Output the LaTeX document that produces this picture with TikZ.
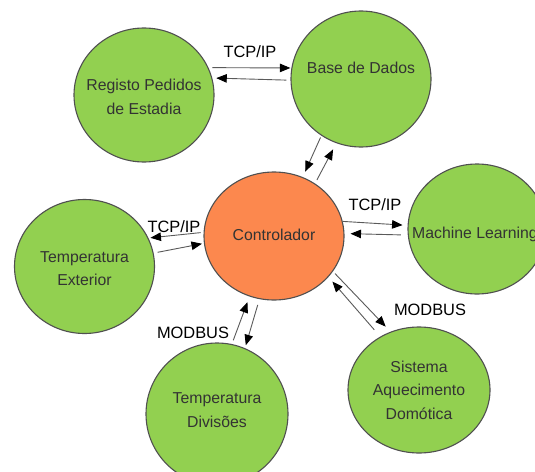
\documentclass[tikz,border=0pt]{standalone}
\usepackage{fontspec}
\setmainfont{Liberation Sans}
\usetikzlibrary{shapes.geometric,arrows.meta}
\definecolor{nodegreen}{RGB}{146,208,80}
\definecolor{nodeorange}{RGB}{252,136,78}
\definecolor{edgegray}{RGB}{80,80,80}
\definecolor{linegray}{RGB}{90,90,90}
\definecolor{txtgray}{RGB}{51,51,51}
\begin{document}
\begin{tikzpicture}[x=1pt,y=-1pt,
  blob/.style={ellipse,draw=edgegray,line width=1.1pt,inner sep=0pt},
  greenblob/.style={blob,fill=nodegreen},
  orangeblob/.style={blob,fill=nodeorange},
  lbl/.style={font=\fontsize{15.8}{23.5}\selectfont,text=txtgray,align=center,inner sep=0pt},
  proto/.style={font=\fontsize{16.4}{19}\selectfont,text=black,inner sep=0pt},
  conn/.style={draw=linegray,line width=0.9pt,-{Triangle[length=10.5pt,width=8.5pt,color=black]}}]
\clip (0,0) rectangle (535,471);
\fill[white] (0,0) rectangle (535,471);
% circles
\node[greenblob,minimum width=140pt,minimum height=134pt] (reg) at (144,95) {};
\node[greenblob,minimum width=140pt,minimum height=136pt] (bd) at (361,79) {};
\node[orangeblob,minimum width=140pt,minimum height=128pt] (ctrl) at (274,236) {};
\node[greenblob,minimum width=138pt,minimum height=130pt] (ml) at (477,229) {};
\node[greenblob,minimum width=140pt,minimum height=134pt] (ext) at (84.5,266.5) {};
\node[greenblob,minimum width=142pt,minimum height=142pt] (div) at (217,414) {};
\node[greenblob,minimum width=142pt,minimum height=126pt] (sis) at (419,390) {};
% texts
\node[lbl] (regt) at (144,97) {Registo Pedidos\\de Estadia};
\node[lbl] (bdt) at (361,68) {Base de Dados};
\node[lbl] (ctrlt) at (274,235) {Controlador};
\node[lbl] (mlt) at (475,234) {Machine Learning};
\node[lbl] (extt) at (84.5,268.5) {Temperatura\\Exterior};
\node[lbl] (divt) at (217,410) {Temperatura\\Divisões};
\node[lbl] (sist) at (419,390) {Sistema\\Aquecimento\\Domótica};
% protocol labels
\node[proto] (p1) at (250,52) {TCP/IP};
\node[proto] (p2) at (375,205) {TCP/IP};
\node[proto] (p3) at (174,227) {TCP/IP};
\node[proto] (p4) at (193,333) {MODBUS};
\node[proto] (p5) at (430,310) {MODBUS};
% connectors
\draw[conn,shorten <=4pt,shorten >=1pt] (reg.23) -- (bd.171);
\draw[conn,shorten <=4pt,shorten >=4pt] (bd.181) -- (reg.14);
\draw[conn,shorten <=2pt,shorten >=6pt] (bd.235) -- (ctrl.64);
\draw[conn,shorten <=4pt,shorten >=7pt] (ctrl.52) -- (bd.249);
\draw[conn,shorten <=0pt,shorten >=5pt] (ctrl.12) -- (ml.177);
\draw[conn,shorten <=7pt,shorten >=6pt] (ml.185) -- (ctrl.2);
\draw[conn,shorten <=3pt,shorten >=2pt] (ctrl.177) -- (ext.24);
\draw[conn,shorten <=4pt,shorten >=2pt] (ext.11) -- (ctrl.186);
\draw[conn,shorten <=4pt,shorten >=6pt] (div.78) -- (ctrl.248);
\draw[conn,shorten <=6pt,shorten >=3pt] (ctrl.257) -- (div.67);
\draw[conn,shorten <=3pt,shorten >=7pt] (ctrl.329) -- (sis.116);
\draw[conn,shorten <=9pt,shorten >=6pt] (sis.126) -- (ctrl.323);
\end{tikzpicture}
\end{document}
